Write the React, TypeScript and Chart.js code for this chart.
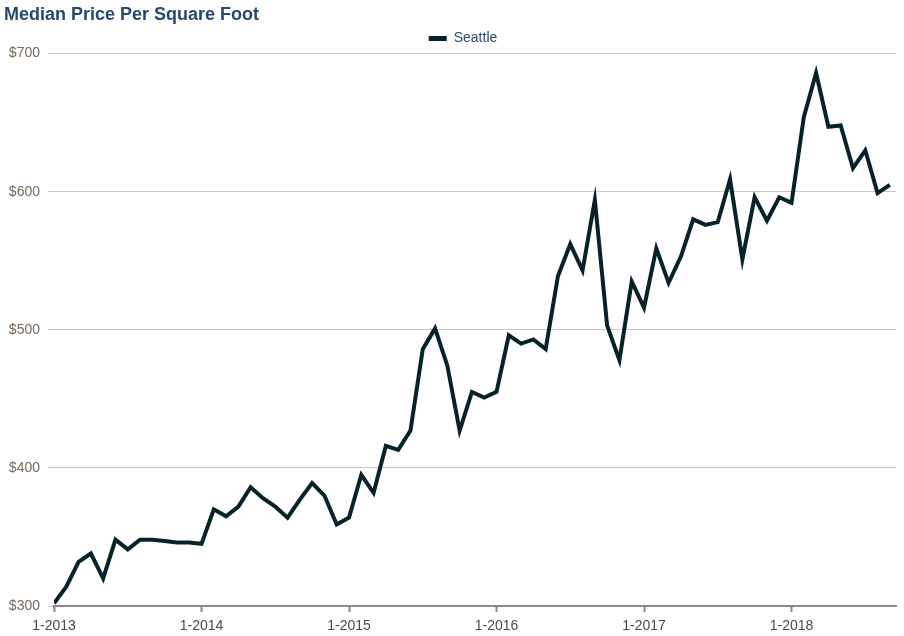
import React, { useEffect, useRef } from "react";
import { Chart, registerables } from "chart.js";

Chart.register(...registerables);

const TITLE = "Median Price Per Square Foot";
const SERIES_LABEL = "Seattle";
const START_YEAR = 2013;

const prices2013 = [302, 314, 332, 338, 320, 348, 341, 348, 348, 347, 346, 346];
const prices2014 = [345, 370, 365, 372, 386, 378, 372, 364, 377, 389, 380, 359];
const prices2015 = [364, 395, 382, 416, 413, 427, 486, 501, 474, 427, 455, 451];
const prices2016 = [455, 496, 490, 493, 486, 539, 562, 543, 594, 503, 478, 535];
const prices2017 = [516, 559, 534, 553, 580, 576, 578, 609, 551, 596, 579, 596];
const prices2018 = [592, 654, 686, 647, 648, 617, 630, 599, 605];

const seattle = [...prices2013, ...prices2014, ...prices2015, ...prices2016, ...prices2017, ...prices2018];
const yTicks = [300, 400, 500, 600, 700];
const xTickMonths = [0, 12, 24, 36, 48, 60];

const FONT = "'Liberation Sans', Arial, Helvetica, sans-serif";

const legendShift = {
  id: "legendShift",
  afterLayout(chart: any) {
    const lg = chart.legend;
    if (!lg) return;
    lg.left += 13;
    lg.right += 13;
    lg.top += 2;
    lg.bottom += 2;
  },
};

export default function App() {
  const ref = useRef<HTMLCanvasElement>(null);

  useEffect(() => {
    document.body.style.margin = "0";
    const canvas = ref.current;
    if (!canvas) return;
    const points = seattle.map((v, i) => ({ x: i, y: v }));
    const chart = new Chart(canvas, {
      type: "line",
      data: {
        datasets: [
          {
            label: SERIES_LABEL,
            data: points,
            borderColor: "#072229",
            backgroundColor: "#072229",
            borderWidth: 4,
            pointRadius: 0,
            tension: 0,
            borderJoinStyle: "miter",
          },
        ],
      },
      plugins: [legendShift],
      options: {
        animation: false,
        responsive: false,
        maintainAspectRatio: false,
        layout: { padding: { left: 4, right: 8, top: 0, bottom: 0 } },
        plugins: {
          title: {
            display: true,
            text: TITLE,
            align: "start",
            color: "#27496c",
            font: { family: FONT, size: 18, weight: "bold" },
            padding: { top: 4, bottom: 0 },
          },
          legend: {
            display: true,
            position: "top",
            align: "center",
            labels: {
              boxWidth: 18,
              boxHeight: 5,
              color: "#2a4a6e",
              font: { family: FONT, size: 14 },
              padding: 4,
              generateLabels: (c: any) =>
                Chart.defaults.plugins.legend.labels
                  .generateLabels(c)
                  .map((l: any) => ({ ...l, lineWidth: 0, fillStyle: "#072229" })),
            },
          },
          tooltip: { enabled: false },
        },
        scales: {
          x: {
            type: "linear",
            min: 0,
            max: 68.5,
            afterBuildTicks: (scale: any) => {
              scale.ticks = xTickMonths.map((v) => ({ value: v }));
            },
            afterFit: (scale: any) => {
              scale.height = 30;
            },
            ticks: {
              autoSkip: false,
              maxRotation: 0,
              color: "#4a4a4a",
              font: { family: FONT, size: 14 },
              padding: 6,
              callback: (v: any) => `1-${START_YEAR + Math.round(Number(v) / 12)}`,
            },
            grid: {
              drawOnChartArea: false,
              drawTicks: true,
              tickLength: 6,
              tickWidth: 2,
              color: "#8a8a8a",
            },
            border: { display: true, color: "#8a8a8a", width: 2 },
          },
          y: {
            type: "linear",
            min: 300,
            max: 700,
            afterBuildTicks: (scale: any) => {
              scale.ticks = yTicks.map((v) => ({ value: v }));
            },
            afterFit: (scale: any) => {
              scale.width = 50;
            },
            ticks: {
              color: "#77695c",
              font: { family: FONT, size: 14 },
              padding: 8,
              callback: (v: any) => `$${v}`,
            },
            grid: {
              color: "#c8c8c8",
              lineWidth: 1,
              drawTicks: true,
              tickLength: 6,
            },
            border: { display: false },
          },
        },
      },
    });
    return () => chart.destroy();
  }, []);

  return (
    <div style={{ width: 904, height: 636 }}>
      <canvas ref={ref} width={904} height={636} style={{ display: "block" }} />
    </div>
  );
}
